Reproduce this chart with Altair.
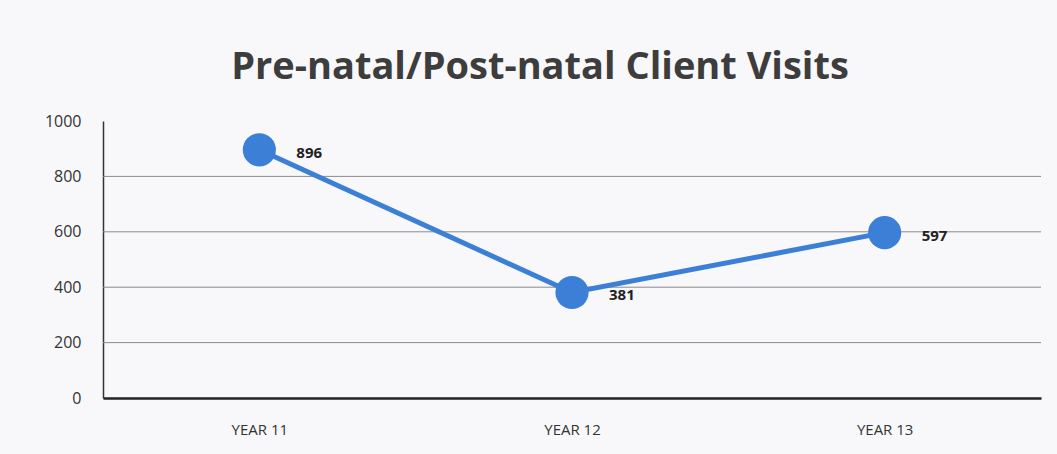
import altair as alt
import pandas as pd

years = ["YEAR 11", "YEAR 12", "YEAR 13"]
visits = [896, 381, 597]
y_ticks = [0, 200, 400, 600, 800, 1000]
grid_values = [200, 400, 600, 800]

df = pd.DataFrame({"year": years, "visits": visits})
grid_df = pd.DataFrame({"visits": grid_values})

FONT = "Open Sans"
BLUE = "#3b7fd6"

y_axis = alt.Axis(values=y_ticks, format="d", labelFontSize=16, labelColor="#333333",
                  labelFont=FONT, ticks=False, domain=True,
                  domainColor="#333333", domainWidth=1.5, labelPadding=22,
                  grid=False)
y_scale = alt.Scale(domain=[0, 1000], nice=False)

x = alt.X("year:N", sort=years, title=None,
          scale=alt.Scale(type="point", padding=0.5),
          axis=alt.Axis(labelAngle=0, labelFontSize=15, labelColor="#333333",
                        labelFont=FONT, ticks=False, domain=True,
                        domainColor="#222222", domainWidth=2.5, labelPadding=24,
                        grid=False))
y = alt.Y("visits:Q", title=None, scale=y_scale, axis=y_axis)

grid = alt.Chart(grid_df).mark_rule(color="#8a8a8a", strokeWidth=1).encode(
    y=alt.Y("visits:Q", title=None, scale=y_scale, axis=y_axis)
)

base = alt.Chart(df).encode(x=x, y=y)

line = base.mark_line(color=BLUE, strokeWidth=5)
points = base.mark_circle(color=BLUE, size=1100, opacity=1)
labels = base.mark_text(align="left", dx=37, dy=3, fontSize=15, fontWeight="bold",
                        font=FONT, color="#222222").encode(text="visits:Q")

chart = (grid + line + points + labels).properties(
    width=938, height=277,
    autosize=alt.AutoSizeParams(type="none"),
    padding={"left": 103, "top": 121, "right": 16, "bottom": 56},
    background="#f8f8fa",
    title=alt.TitleParams("Pre-natal/Post-natal Client Visits", fontSize=38,
                          font=FONT, fontWeight="bold", color="#3d3d3d",
                          anchor="middle", offset=26, dx=-32),
).configure_view(stroke=None)

chart.save("out.html", embed_options={"renderer": "svg", "actions": False})
